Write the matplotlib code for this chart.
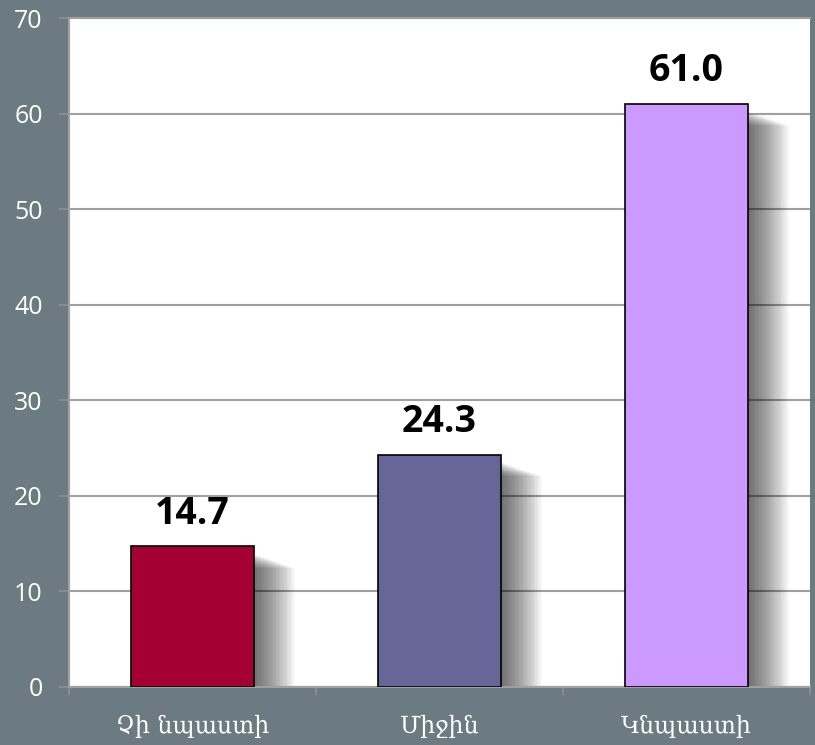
import matplotlib.pyplot as plt
from matplotlib.patches import Rectangle

# data
categories = ['Չի նպաստի', 'Միջին', 'Կնպաստի']
values = [14.7, 24.3, 61.0]
colors = ['#a50034', '#666699', '#cc99ff']
yticks = [0, 10, 20, 30, 40, 50, 60, 70]

bg = '#6b7b81'
fig = plt.figure(figsize=(8.15, 7.45), dpi=100, facecolor=bg)
ax = fig.add_axes([0.0847, 0.0779, 0.9092, 0.8979])
ax.set_facecolor('white')

x = range(len(categories))
bars = ax.bar(x, values, width=0.5, color=colors, edgecolor='black', linewidth=1.2, zorder=3)

# soft shadow to the right of each bar
for b in bars:
    for k in range(30):
        off = 0.0055 * (k + 1)
        ax.add_patch(Rectangle((b.get_x() + off, 0), b.get_width(), b.get_height() - 0.8 - k * 0.05,
                               color='black', alpha=0.022, lw=0, zorder=2))

# value labels
for b, v in zip(bars, values):
    ax.text(b.get_x() + b.get_width() / 2, v + 2.4, f'{v:.1f}', ha='center', va='baseline',
            fontsize=27, fontweight='bold', family='Open Sans', color='black', zorder=4)

ax.set_xlim(-0.5, 2.5)
ax.set_ylim(0, 70)
ax.set_yticks(yticks)
ax.set_yticklabels([str(t) for t in yticks], family='Open Sans', fontsize=18, color='white')
ax.yaxis.grid(True, color='#a0a0a0', linewidth=1.5, zorder=1)
ax.tick_params(axis='y', length=7, width=1.2, color='#909090', pad=12)

ax.set_xticks(list(x))
ax.set_xticklabels(categories, family='DejaVu Serif', fontsize=17, color='white')
ax.tick_params(axis='x', length=0, pad=20)
ax.set_xticks([-0.5, 0.5, 1.5, 2.5], minor=True)
ax.tick_params(axis='x', which='minor', length=6, width=1.2, color='#909090')

for s in ['left', 'bottom', 'top']:
    ax.spines[s].set_color('#a0a0a0')
    ax.spines[s].set_linewidth(1.5)
ax.spines['right'].set_visible(False)

fig.savefig('out.png', dpi=100, facecolor=bg)
